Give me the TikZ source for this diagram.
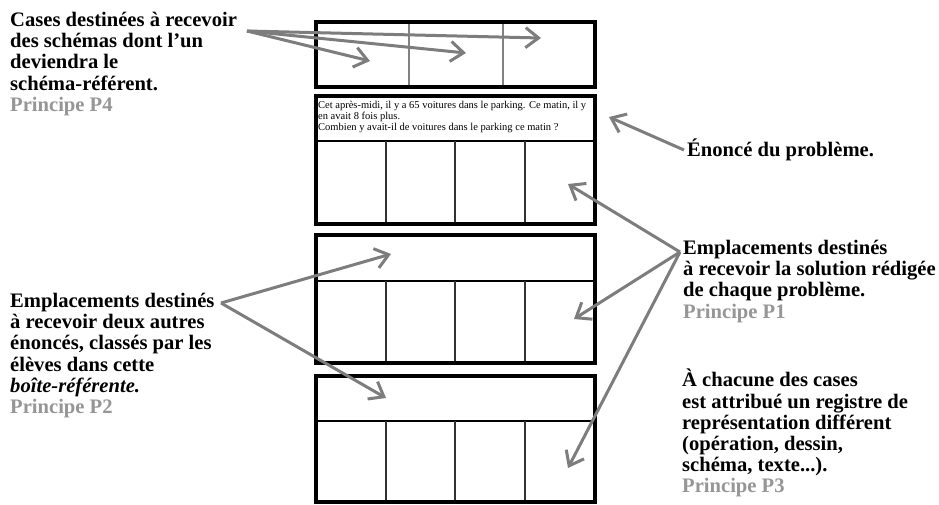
\documentclass[tikz,border=0pt]{standalone}
\usepackage{fontspec}
\setmainfont{Liberation Serif}
\usetikzlibrary{arrows.meta}
\definecolor{arrgray}{RGB}{125,125,125}
\definecolor{prgray}{RGB}{150,150,150}
\definecolor{thingray}{RGB}{130,130,130}
\definecolor{darkline}{RGB}{50,50,50}
\begin{document}
\begin{tikzpicture}[x=1pt,y=-1pt,
  outerbox/.style={draw=black,line width=3.6pt},
  divline/.style={draw=black,line width=1.8pt},
  colline/.style={draw=darkline,line width=2.2pt},
  thinline/.style={draw=thingray,line width=1.2pt},
  pointer/.style={draw=arrgray,line width=3pt,-{Straight Barb[length=13pt,width=20pt,line width=3pt]}},
  label/.style={anchor=north west,inner sep=0pt,align=left,font=\fontsize{20.6}{21.2}\selectfont\bfseries},
  principe/.style={text=prgray}
]
\useasboundingbox[fill=white] (0,0) rectangle (939,504);

% Box 1
\draw[thinline] (409,22) -- (409,87);
\draw[thinline] (503,22) -- (503,87);
\draw[outerbox] (316,22) rectangle (595,87);

% Box 2
\node[anchor=north west,inner sep=0pt,align=left,font=\fontsize{10.5}{10.8}\selectfont] (enonce) at (318,101)
 {Cet après-midi, il y a 65 voitures dans le parking. Ce matin, il y\\en avait 8 fois plus.\\Combien y avait-il de voitures dans le parking ce matin ?};
\draw[divline] (316,141) -- (595,141);
\foreach \x in {386,455,525} \draw[colline] (\x,141) -- (\x,224);
\draw[outerbox] (316,96) rectangle (595,224);

% Box 3
\draw[divline] (316,281) -- (595,281);
\foreach \x in {386,455,525} \draw[colline] (\x,281) -- (\x,363);
\draw[outerbox] (316,235) rectangle (595,363);

% Box 4
\draw[divline] (316,421) -- (595,421);
\foreach \x in {386,455,525} \draw[colline] (\x,421) -- (\x,504);
\draw[outerbox] (316,376) rectangle (595,502);

% Labels
\node[label] (lab4) at (10,12) {Cases destinées à recevoir\\des schémas dont l’un\\deviendra le\\schéma-référent.\\\textcolor{prgray}{Principe P4}};
\node[label] (lab2) at (10,293) {Emplacements destinés\\à recevoir deux autres\\énoncés, classés par les\\élèves dans cette\\\textit{boîte-référente.}\\\textcolor{prgray}{Principe P2}};
\node[label,anchor=base west] (labE) at (687,156) {Énoncé du problème.};
\node[label] (lab1) at (683,240) {Emplacements destinés\\à recevoir la solution rédigée\\de chaque problème.\\\textcolor{prgray}{Principe P1}};
\node[label] (lab3) at (682,369) {À chacune des cases\\est attribué un registre de\\représentation différent\\(opération, dessin,\\schéma, texte...).\\\textcolor{prgray}{Principe P3}};

% Arrow coordinates
\coordinate (s4) at (247,31);
\coordinate (t4a) at (370,61);
\coordinate (t4b) at (466,53);
\coordinate (t4c) at (541,38);
\coordinate (sE) at (684,150);
\coordinate (tE) at (609,117);
\coordinate (s1) at (680,252);
\coordinate (t1a) at (568,184);
\coordinate (t1b) at (574,319);
\coordinate (t1c) at (568,468);
\coordinate (s2) at (221,303);
\coordinate (t2a) at (391,254);
\coordinate (t2b) at (386,398);

\draw[pointer] (s4) -- (t4a);
\draw[pointer] (s4) -- (t4b);
\draw[pointer] (s4) -- (t4c);
\draw[pointer] (sE) -- (tE);
\draw[pointer] (s1) -- (t1a);
\draw[pointer] (s1) -- (t1b);
\draw[pointer] (s1) -- (t1c);
\draw[pointer] (s2) -- (t2a);
\draw[pointer] (s2) -- (t2b);
\end{tikzpicture}
\end{document}
